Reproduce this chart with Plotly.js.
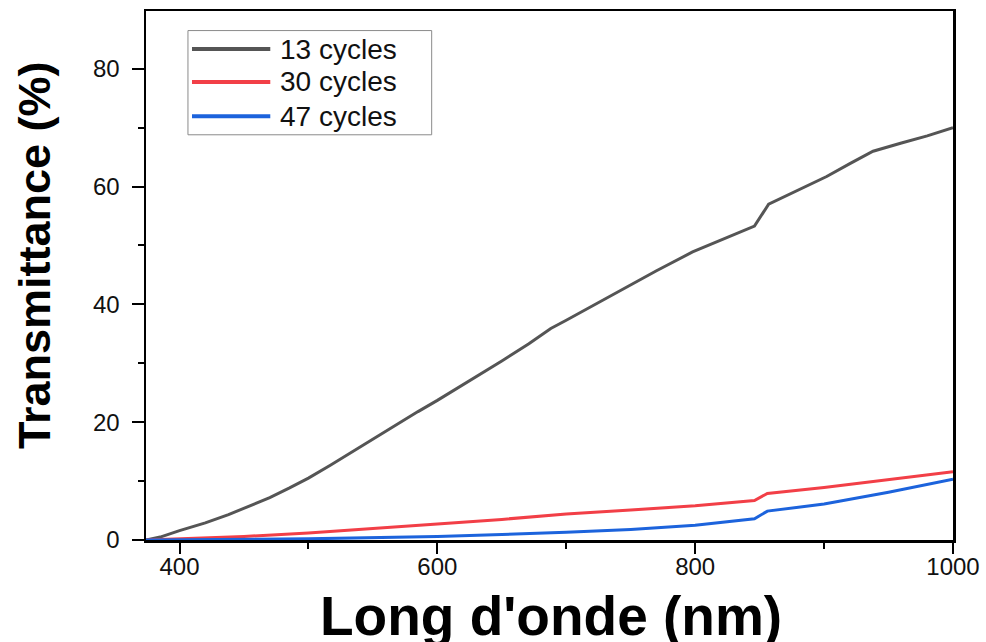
<!DOCTYPE html>
<html>
<head>
<meta charset="utf-8">
<script src="https://cdn.plot.ly/plotly-3.0.1.min.js"></script>
<style>
  html, body { margin: 0; padding: 0; background: #ffffff; }
  #chart { width: 986px; height: 642px; }
</style>
</head>
<body>
<div id="chart"></div>
<script>
// Transmission spectra for films grown with different numbers of cycles
const seriesNames = ['13 cycles', '30 cycles', '47 cycles'];
const seriesColors = ['#555555', '#f23f47', '#1c63dc'];

const wl13 = [374, 385, 400, 420, 438, 455, 470, 485, 500, 517, 534, 550, 567, 585, 600, 616, 632, 650, 671, 688, 700, 720, 746, 770, 798, 820, 846, 857, 880, 902, 920, 938, 960, 980, 1000];
const t13  = [0, 0.5, 1.6, 2.9, 4.3, 5.8, 7.2, 8.8, 10.5, 12.7, 15.0, 17.2, 19.5, 21.8, 23.7, 25.8, 27.9, 30.4, 33.3, 35.9, 37.3, 39.7, 42.8, 45.7, 48.9, 50.9, 53.3, 57.0, 59.4, 61.7, 63.9, 66.0, 67.4, 68.6, 70.0];

const wl30 = [374, 400, 450, 500, 550, 600, 650, 700, 750, 800, 846, 856, 900, 950, 1000];
const t30  = [0, 0.2, 0.6, 1.2, 1.9, 2.7, 3.5, 4.4, 5.1, 5.8, 6.7, 7.9, 8.9, 10.3, 11.6];

const wl47 = [374, 400, 500, 600, 650, 700, 750, 800, 846, 856, 900, 950, 1000];
const t47  = [0, 0.05, 0.2, 0.6, 0.9, 1.3, 1.8, 2.5, 3.6, 4.9, 6.1, 8.1, 10.3];

const xTicks = [400, 600, 800, 1000];
const yTicks = [0, 20, 40, 60, 80];

const xs = [wl13, wl30, wl47];
const ys = [t13, t30, t47];

const traces = seriesNames.map((name, i) => ({
  type: 'scatter',
  mode: 'lines',
  name: name,
  x: xs[i],
  y: ys[i],
  line: { color: seriesColors[i], width: 3 },
  showlegend: false
}));

const fontFamily = 'Liberation Sans, Arial, sans-serif';

// Framed legend: long line samples with labels, in plot-area coordinates
const legX0 = 0.052, legX1 = 0.354, legY0 = 0.766, legY1 = 0.963;
const rowY = [0.928, 0.866, 0.801];
const shapes = [{
  type: 'rect', xref: 'paper', yref: 'paper',
  x0: legX0, x1: legX1, y0: legY0, y1: legY1,
  line: { color: '#8a8a8a', width: 1 }, fillcolor: 'rgba(0,0,0,0)', layer: 'above'
}];
const annotations = [];
seriesNames.forEach((name, i) => {
  shapes.push({
    type: 'line', xref: 'paper', yref: 'paper',
    x0: 0.057, x1: 0.154, y0: rowY[i], y1: rowY[i],
    line: { color: seriesColors[i], width: 4 }, layer: 'above'
  });
  annotations.push({
    xref: 'paper', yref: 'paper', x: 0.164, y: rowY[i],
    xanchor: 'left', yanchor: 'middle', showarrow: false,
    text: name, font: { family: fontFamily, size: 28, color: '#111111' }
  });
});

// Axis titles
annotations.push({
  xref: 'paper', yref: 'paper', x: -0.138, y: 0.538,
  xanchor: 'center', yanchor: 'middle', showarrow: false, textangle: -90,
  text: '<b>Transmittance (%)</b>',
  font: { family: fontFamily, size: 45, color: '#000000' }
});
annotations.push({
  xref: 'paper', yref: 'paper', x: 0.502, y: -0.081,
  xanchor: 'center', yanchor: 'top', showarrow: false,
  text: "<b>Long d'onde (nm)</b>",
  font: { family: fontFamily, size: 55, color: '#000000' }
});

const layout = {
  width: 986,
  height: 642,
  margin: { l: 146, r: 33, t: 11, b: 102 },
  paper_bgcolor: '#ffffff',
  plot_bgcolor: '#ffffff',
  font: { family: fontFamily, color: '#111111' },
  xaxis: {
    range: [374, 1000],
    tickvals: xTicks,
    ticktext: xTicks.map(String),
    ticks: 'outside', ticklen: 11, tickwidth: 2, tickcolor: '#000000',
    minor: { dtick: 100, tick0: 0, ticks: 'outside', ticklen: 6, tickwidth: 2, tickcolor: '#000000', showgrid: false },
    showline: true, linecolor: '#000000', linewidth: 2.5, mirror: true,
    showgrid: false, zeroline: false,
    tickfont: { size: 24, color: '#111111' },
    ticklabelstandoff: -7
  },
  yaxis: {
    range: [0, 89.8],
    tickvals: yTicks,
    ticktext: yTicks.map(String),
    ticks: 'outside', ticklen: 12, tickwidth: 2, tickcolor: '#000000',
    minor: { dtick: 10, tick0: 0, ticks: 'outside', ticklen: 6, tickwidth: 2, tickcolor: '#000000', showgrid: false },
    showline: true, linecolor: '#000000', linewidth: 2.5, mirror: true,
    showgrid: false, zeroline: false,
    tickfont: { size: 24, color: '#111111' },
    ticklabelstandoff: 7
  },
  shapes: shapes,
  annotations: annotations,
  showlegend: false
};

Plotly.newPlot('chart', traces, layout, { staticPlot: true, displayModeBar: false });
</script>
</body>
</html>
